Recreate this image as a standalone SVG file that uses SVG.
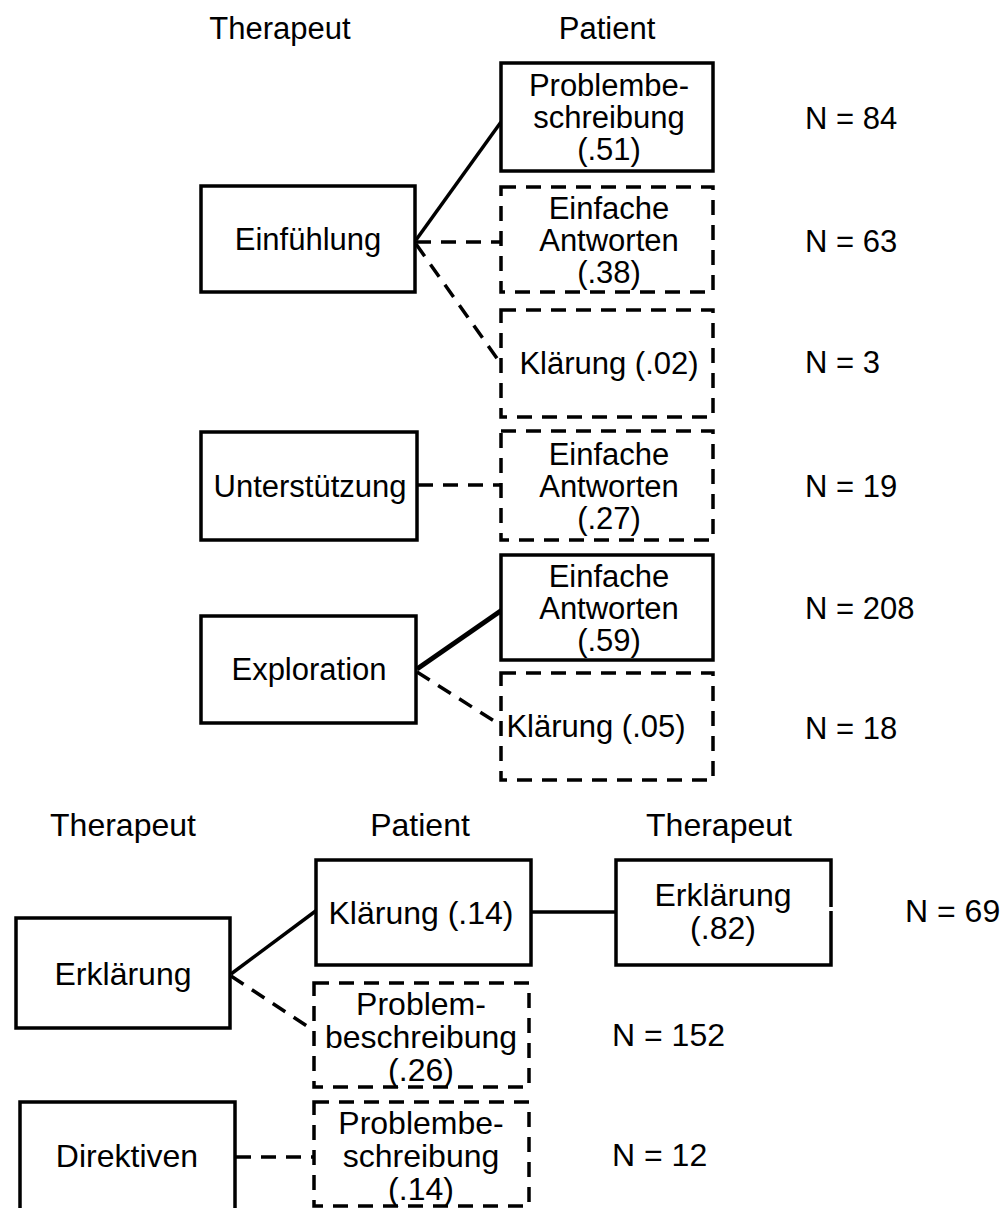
<svg xmlns="http://www.w3.org/2000/svg" width="1007" height="1208" viewBox="0 0 1007 1208">
<style>
text{font-family:"Liberation Sans",Arial,sans-serif;font-size:31px;fill:#000;text-anchor:middle}
.b text{font-size:32px}
.n{text-anchor:start}
.solid{fill:#fff;stroke:#000;stroke-width:3.5}
.dash{fill:#fff;stroke:#000;stroke-width:3.5;stroke-dasharray:15 10}
.c{fill:none;stroke:#000;stroke-width:3.5}
.cd{fill:none;stroke:#000;stroke-width:3.5;stroke-dasharray:15 10}
</style>
<rect width="1007" height="1208" fill="#fff"/>
<g id="headers">
<text x="280" y="39">Therapeut</text>
<text x="607" y="39">Patient</text>
</g>
<g id="headers-bottom" class="b">
<text x="123" y="836">Therapeut</text>
<text x="420" y="836">Patient</text>
<text x="719" y="836">Therapeut</text>
</g>
<g id="connectors">
<line class="c" x1="416" y1="240" x2="501" y2="122"/>
<line class="cd" x1="416" y1="242" x2="500" y2="242"/>
<line class="cd" x1="416" y1="244" x2="501" y2="364"/>
<line class="cd" x1="418" y1="485" x2="500" y2="485"/>
<line class="c" style="stroke-width:5" x1="417" y1="669" x2="502" y2="610"/>
<line class="cd" x1="417" y1="672" x2="502" y2="726"/>
<line class="c" x1="231" y1="974" x2="317" y2="910"/>
<line class="cd" x1="231" y1="976" x2="313" y2="1030"/>
<line class="c" x1="531" y1="912" x2="616" y2="912"/>
<line class="cd" x1="236" y1="1157" x2="314" y2="1157"/>
</g>
<g id="einfuehlung">
<rect class="solid" x="201" y="186" width="214" height="106"/>
<text x="308" y="250">Einfühlung</text>
</g>
<g id="unterstuetzung">
<rect class="solid" x="201" y="432" width="216" height="108"/>
<text x="310" y="497">Unterstützung</text>
</g>
<g id="exploration">
<rect class="solid" x="201" y="616" width="215" height="107"/>
<text x="309" y="680">Exploration</text>
</g>
<g id="p1">
<rect class="solid" x="501" y="63" width="212" height="108"/>
<text x="609" y="96">Problembe-</text>
<text x="609" y="128">schreibung</text>
<text x="609" y="160">(.51)</text>
</g>
<g id="p2">
<rect class="dash" x="501" y="187" width="212" height="105"/>
<text x="609" y="219">Einfache</text>
<text x="609" y="251">Antworten</text>
<text x="609" y="283">(.38)</text>
</g>
<g id="p3">
<rect class="dash" x="501" y="310" width="212" height="107"/>
<text x="609" y="374">Klärung (.02)</text>
</g>
<g id="p4">
<rect class="dash" x="501" y="431" width="212" height="109"/>
<text x="609" y="465">Einfache</text>
<text x="609" y="497">Antworten</text>
<text x="609" y="529">(.27)</text>
</g>
<g id="p5">
<rect class="solid" x="501" y="555" width="212" height="105"/>
<text x="609" y="587">Einfache</text>
<text x="609" y="619">Antworten</text>
<text x="609" y="651">(.59)</text>
</g>
<g id="p6">
<rect class="dash" x="501" y="673" width="212" height="107"/>
<text x="596" y="737">Klärung (.05)</text>
</g>
<g id="n-top">
<text class="n" x="805" y="129">N = 84</text>
<text class="n" x="805" y="252">N = 63</text>
<text class="n" x="805" y="373">N = 3</text>
<text class="n" x="805" y="497">N = 19</text>
<text class="n" x="805" y="619">N = 208</text>
<text class="n" x="805" y="739">N = 18</text>
</g>
<g id="erklaerung" class="b">
<rect class="solid" x="16" y="918" width="214" height="110"/>
<text x="123" y="985">Erklärung</text>
</g>
<g id="direktiven" class="b">
<rect class="solid" x="20" y="1102" width="215" height="110"/>
<text x="127" y="1167">Direktiven</text>
</g>
<g id="klaerung14" class="b">
<rect class="solid" x="316" y="860" width="215" height="105"/>
<text x="421" y="924">Klärung (.14)</text>
</g>
<g id="erklaerung82" class="b">
<path class="c" d="M831 907 V860 H616 V965 H831 V911"/>
<text x="723" y="906">Erklärung</text>
<text x="723" y="939">(.82)</text>
</g>
<g id="problem26" class="b">
<rect class="dash" x="314" y="983" width="215" height="104"/>
<text x="421" y="1015">Problem-</text>
<text x="421" y="1048">beschreibung</text>
<text x="421" y="1081">(.26)</text>
</g>
<g id="problem14" class="b">
<rect class="dash" x="314" y="1102" width="215" height="104"/>
<text x="421" y="1134">Problembe-</text>
<text x="421" y="1167">schreibung</text>
<text x="421" y="1200">(.14)</text>
</g>
<g id="n-bottom" class="b">
<text class="n" x="905" y="922">N = 69</text>
<text class="n" x="612" y="1046">N = 152</text>
<text class="n" x="612" y="1166">N = 12</text>
</g>
</svg>
